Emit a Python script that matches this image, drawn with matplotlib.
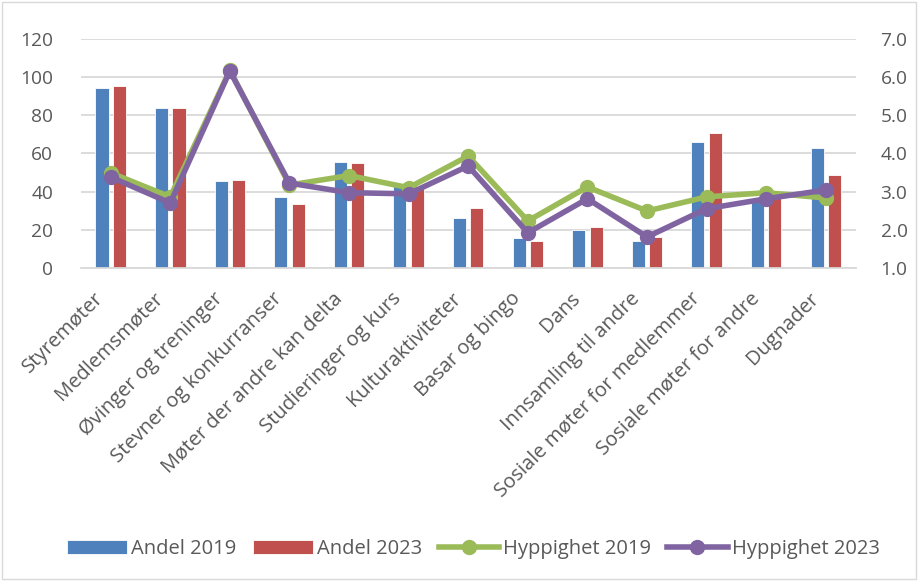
import numpy as np
import matplotlib.pyplot as plt
import matplotlib.transforms as mtransforms
from matplotlib.patches import Rectangle

plt.rcParams['font.family'] = ['Open Sans', 'DejaVu Sans']

# Data
categories = ['Styremøter', 'Medlemsmøter', 'Øvinger og treninger',
              'Stevner og konkurranser', 'Møter der andre kan delta',
              'Studieringer og kurs', 'Kulturaktiviteter', 'Basar og bingo',
              'Dans', 'Innsamling til andre', 'Sosiale møter for medlemmer',
              'Sosiale møter for andre', 'Dugnader']
andel_2019 = [94.3, 84, 45.6, 37.2, 55.5, 44.5, 26, 15.7, 20, 14.2, 66, 36, 63]
andel_2023 = [95.4, 84, 46, 33.5, 55, 42, 31.4, 14.2, 21.5, 16.2, 70.7, 37, 48.7]
hypp_2019 = [3.49, 2.86, 6.18, 3.17, 3.42, 3.1, 3.93, 2.23, 3.12, 2.49, 2.86, 2.97, 2.83]
hypp_2023 = [3.38, 2.70, 6.16, 3.22, 2.97, 2.94, 3.67, 1.92, 2.81, 1.81, 2.55, 2.81, 3.04]

c_blue = '#4F81BD'
c_red = '#C0504D'
c_green = '#9BBB59'
c_purple = '#8064A2'
txt = '#595959'
grid = '#D9D9D9'

fig = plt.figure(figsize=(9.19, 5.81), dpi=100)
fig.patches.append(Rectangle((0.002, 0.003), 0.995, 0.994, transform=fig.transFigure,
                             fill=False, edgecolor=grid, linewidth=1))

ax = fig.add_axes([0.088, 0.539, 0.843, 0.394])
x = np.arange(len(categories))
w = 0.22
ax.bar(x - 0.146, andel_2019, w, color=c_blue, edgecolor='white', linewidth=0.6,
       label='Andel 2019', zorder=2)
ax.bar(x + 0.146, andel_2023, w, color=c_red, edgecolor='white', linewidth=0.6,
       label='Andel 2023', zorder=2)
ax.set_ylim(0, 120)
ax.set_yticks(range(0, 121, 20))
ax.set_xlim(-0.5, len(categories) - 0.5)
ax.yaxis.grid(True, color=grid, linewidth=1.3, zorder=0)
ax.set_axisbelow(True)
for s in ['top', 'right', 'left']:
    ax.spines[s].set_visible(False)
ax.spines['bottom'].set_color(grid)
ax.spines['bottom'].set_linewidth(1.3)
ax.tick_params(axis='both', length=0, colors=txt, labelsize=13.8)
ax.tick_params(axis='y', pad=20)
ax.set_xticks(x)
ax.set_xticklabels(categories, rotation=45, ha='right', va='center',
                   rotation_mode='anchor', fontsize=14.5)
ax.tick_params(axis='x', pad=20)
shift = mtransforms.ScaledTranslation(-10 / 100, 0, fig.dpi_scale_trans)
for lab in ax.get_xticklabels():
    lab.set_transform(lab.get_transform() + shift)

ax2 = ax.twinx()
ax2.plot(x, hypp_2019, color=c_green, linewidth=4, marker='o', markersize=10,
         label='Hyppighet 2019', zorder=3)
ax2.plot(x, hypp_2023, color=c_purple, linewidth=4, marker='o', markersize=10,
         label='Hyppighet 2023', zorder=4)
ax2.set_ylim(1, 7)
ax2.set_yticks(np.arange(1, 7.1, 1))
ax2.set_yticklabels([f'{v:.1f}' for v in np.arange(1, 7.1, 1)])
for s in ax2.spines.values():
    s.set_visible(False)
ax2.tick_params(axis='y', length=0, colors=txt, labelsize=13.8, pad=18)

h1, l1 = ax.get_legend_handles_labels()
h2, l2 = ax2.get_legend_handles_labels()
fig.legend(h1 + h2, l1 + l2, loc='center', bbox_to_anchor=(0.515, 0.055), ncol=4,
           frameon=False, fontsize=14.5, labelcolor=txt, handlelength=3,
           handletextpad=0.2, columnspacing=0.8)

fig.savefig('out.png', dpi=100)
